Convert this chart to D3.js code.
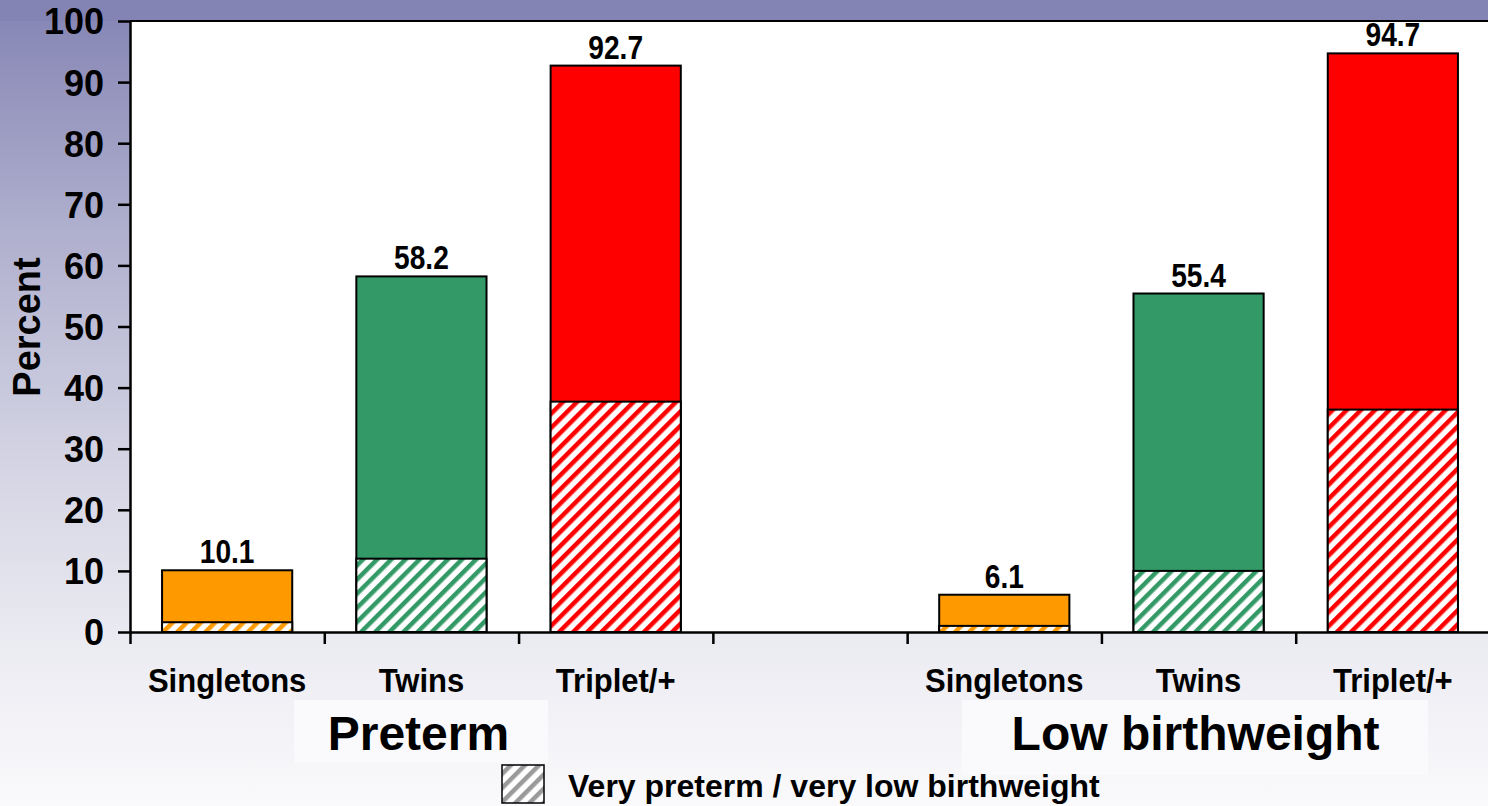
<!DOCTYPE html>
<html lang="en">
<head>
    <meta charset="UTF-8">
    <title>Preterm and low birthweight by plurality</title>
    <script src="https://d3js.org/d3.v7.min.js"></script>
    <style>
        body {
            margin: 0;
            overflow: hidden;
        }
        svg text {
            font-family: "Liberation Sans", Arial, sans-serif;
            font-weight: bold;
            fill: #000;
        }
    </style>
</head>
<body>
    <svg width="1488" height="806"></svg>
    <script>
        // Chart data
        const groups = ["Preterm", "Low birthweight"];
        const categories = ["Singletons", "Twins", "Triplet/+"];
        const totals = [[10.1, 58.2, 92.7], [6.1, 55.4, 94.7]];
        const veryValues = [[1.6, 12.0, 37.7], [1.0, 10.0, 36.4]];
        const barColors = ["#ff9900", "#339966", "#ff0000"];
        const yTicks = [0, 10, 20, 30, 40, 50, 60, 70, 80, 90, 100];
        const legendLabel = "Very preterm / very low birthweight";

        const W = 1488, H = 806;
        const margin = {top: 21, left: 130, bottom: 174};
        const plotRight = 1490;
        const plotBottom = H - margin.bottom;

        const svg = d3.select("svg");
        const defs = svg.append("defs");

        // background gradient (purple top fading to near white)
        const grad = defs.append("linearGradient")
            .attr("id", "bg").attr("x1", 0).attr("y1", 0).attr("x2", 0).attr("y2", 1);
        [[0, "#8484b4"], [0.3, "#b1b1cf"], [0.55, "#d1d1e2"], [0.8, "#ebebf2"], [1, "#fafafc"]]
            .forEach(s => grad.append("stop").attr("offset", s[0]).attr("stop-color", s[1]));

        // hatch patterns
        function hatch(id, color) {
            const p = defs.append("pattern")
                .attr("id", id)
                .attr("patternUnits", "userSpaceOnUse")
                .attr("width", 10).attr("height", 10)
                .attr("patternTransform", "rotate(45)");
            p.append("rect").attr("width", 10).attr("height", 10).attr("fill", "#fff");
            p.append("rect").attr("width", 4.5).attr("height", 10).attr("fill", color);
        }
        barColors.forEach((c, i) => hatch("hatch" + i, c));
        hatch("hatchLegend", "#9a9a9a");

        svg.append("rect").attr("width", W).attr("height", H).attr("fill", "url(#bg)");
        svg.append("rect").attr("width", W).attr("height", margin.top).attr("fill", "#8484b4");

        // flatten into slots (one empty slot between the groups)
        const slots = [];
        groups.forEach((g, gi) => {
            categories.forEach((c, ci) => {
                slots.push({key: g + "|" + c, group: g, gi, cat: c, ci,
                            total: totals[gi][ci], very: veryValues[gi][ci]});
            });
            if (gi === 0) slots.push({key: "gap", gap: true});
        });

        const x = d3.scaleBand()
            .domain(slots.map(d => d.key))
            .range([margin.left, plotRight])
            .paddingInner(0.33)
            .paddingOuter(0.165);

        const slotScale = d3.scaleLinear().domain([0, slots.length]).range([margin.left, plotRight]);

        const y = d3.scaleLinear().domain([0, 100]).range([plotBottom, margin.top]);

        // plot area
        svg.append("rect")
            .attr("x", margin.left).attr("y", margin.top)
            .attr("width", plotRight - margin.left).attr("height", plotBottom - margin.top)
            .attr("fill", "#fff");
        svg.append("line")
            .attr("x1", margin.left).attr("x2", plotRight)
            .attr("y1", margin.top).attr("y2", margin.top)
            .attr("stroke", "#000").attr("stroke-width", 2);

        const bars = slots.filter(d => !d.gap);

        // full bars
        svg.selectAll(".bar")
            .data(bars)
            .enter().append("rect")
            .attr("class", "bar")
            .attr("x", d => x(d.key))
            .attr("y", d => y(d.total))
            .attr("width", x.bandwidth())
            .attr("height", d => y(0) - y(d.total))
            .attr("fill", d => barColors[d.ci])
            .attr("stroke", "#000").attr("stroke-width", 2);

        // hatched "very" part
        svg.selectAll(".very")
            .data(bars)
            .enter().append("rect")
            .attr("class", "very")
            .attr("x", d => x(d.key))
            .attr("y", d => y(d.very))
            .attr("width", x.bandwidth())
            .attr("height", d => y(0) - y(d.very))
            .attr("fill", d => `url(#hatch${d.ci})`)
            .attr("stroke", "#000").attr("stroke-width", 2);

        // value labels (slightly tall, like the original slide font)
        svg.selectAll(".val")
            .data(bars)
            .enter().append("text")
            .attr("transform", d => `translate(${x(d.key) + x.bandwidth() / 2},${y(d.total) - 7}) scale(0.97,1.12)`)
            .attr("text-anchor", "middle")
            .style("font-size", "29px")
            .text(d => d.total.toFixed(1));

        // y axis
        const yAxis = svg.append("g")
            .attr("transform", `translate(${margin.left},0)`)
            .call(d3.axisLeft(y).tickValues(yTicks).tickSize(12).tickSizeOuter(0).tickPadding(14));
        yAxis.selectAll("path, line").attr("stroke", "#000").attr("stroke-width", 2.5);
        yAxis.selectAll("text").style("font-size", "36px").attr("dy", "0.36em");

        // x axis (ticks at slot boundaries)
        const xAxis = svg.append("g")
            .attr("transform", `translate(0,${plotBottom})`)
            .call(d3.axisBottom(slotScale).tickValues(d3.range(slots.length + 1)).tickSize(12).tickSizeOuter(0).tickFormat(""));
        xAxis.selectAll("path, line").attr("stroke", "#000").attr("stroke-width", 2.5);

        // category labels
        svg.selectAll(".cat")
            .data(bars)
            .enter().append("text")
            .attr("transform", d => `translate(${x(d.key) + x.bandwidth() / 2},692) scale(1,1.06)`)
            .attr("text-anchor", "middle")
            .style("font-size", "31px")
            .text(d => d.cat);

        // y label
        svg.append("text")
            .attr("transform", "translate(40,327) rotate(-90)")
            .attr("text-anchor", "middle")
            .style("font-size", "38px")
            .text("Percent");

        // group labels with light boxes
        const groupBoxes = [{x0: 294, x1: 548, y1: 763}, {x0: 962, x1: 1428, y1: 775}];
        groups.forEach((g, gi) => {
            const mid = bars.find(d => d.gi === gi && d.ci === 1);
            const cx = x(mid.key) + x.bandwidth() / 2;
            svg.append("rect")
                .attr("x", groupBoxes[gi].x0).attr("y", 700)
                .attr("width", groupBoxes[gi].x1 - groupBoxes[gi].x0)
                .attr("height", groupBoxes[gi].y1 - 700)
                .attr("fill", "#fafafc");
            svg.append("text")
                .attr("x", cx - 3).attr("y", 750)
                .attr("text-anchor", "middle")
                .style("font-size", "48px")
                .text(g);
        });

        // legend
        svg.append("rect")
            .attr("x", 502).attr("y", 765).attr("width", 42).attr("height", 38)
            .attr("fill", "url(#hatchLegend)")
            .attr("stroke", "#000").attr("stroke-width", 1.5);
        svg.append("text")
            .attr("x", 568).attr("y", 797)
            .style("font-size", "32px")
            .text(legendLabel);
    </script>
</body>
</html>
